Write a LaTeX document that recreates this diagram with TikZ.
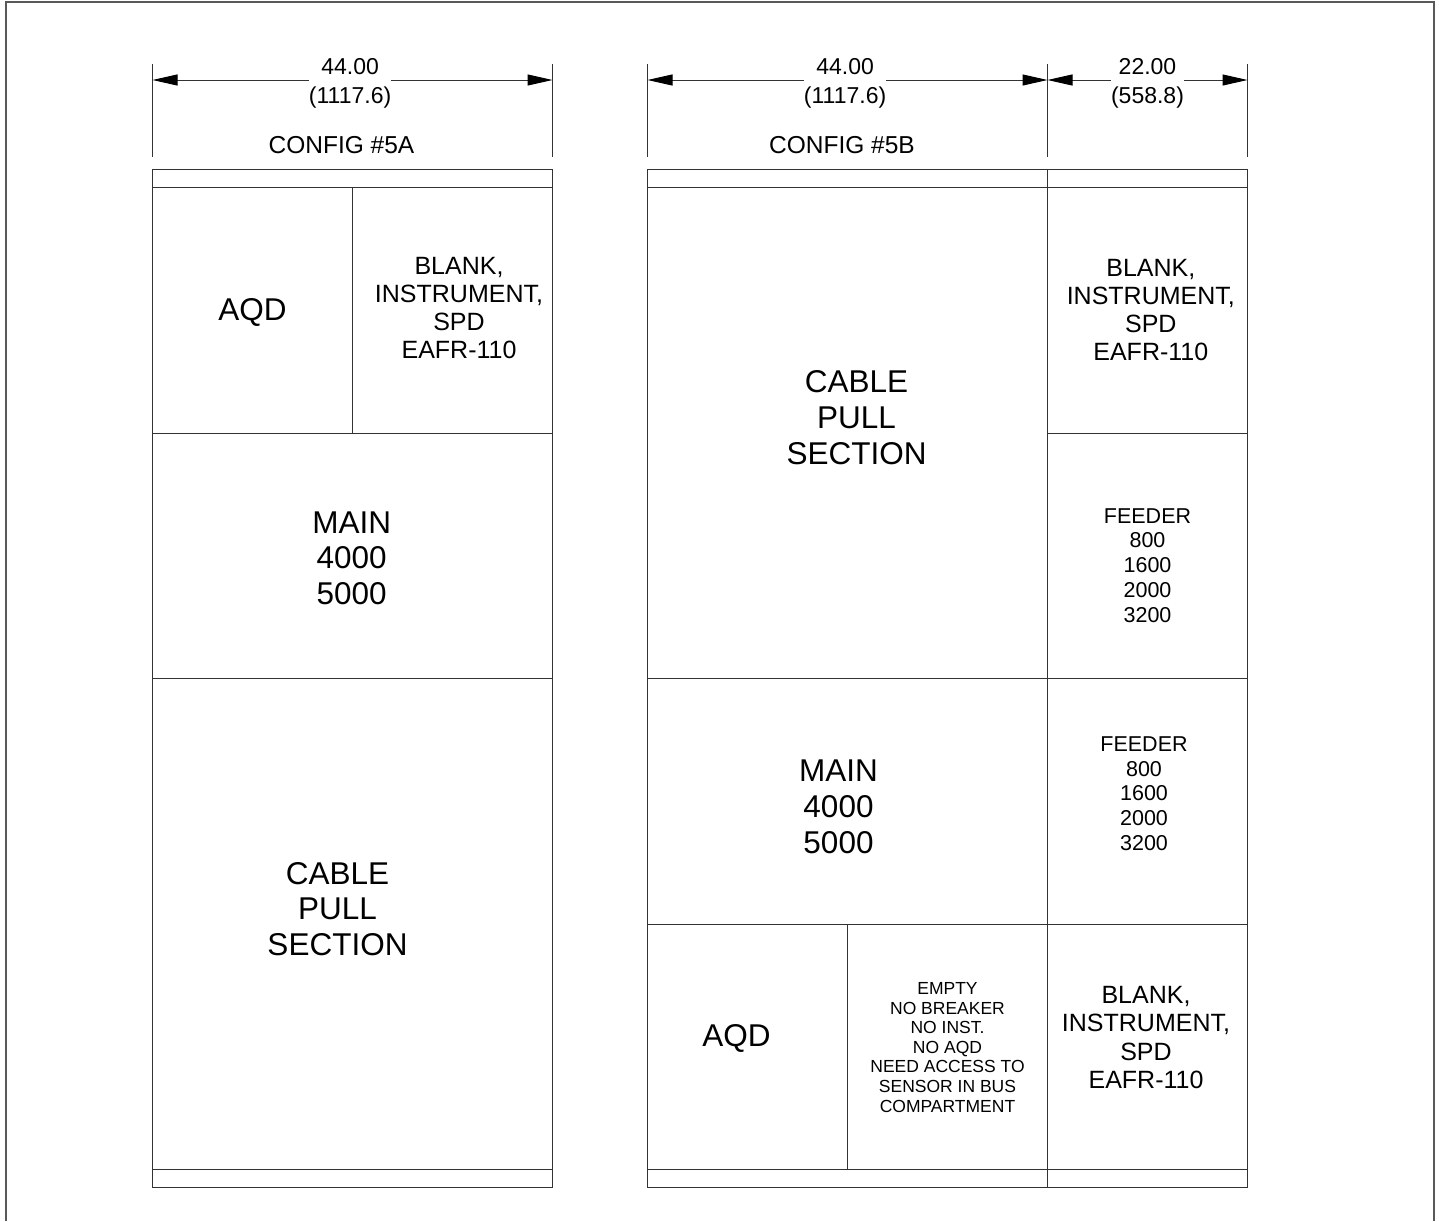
\documentclass[tikz,border=0pt]{standalone}
\usepackage{fontspec}
\setmainfont{Liberation Sans}
\usetikzlibrary{positioning}
\usetikzlibrary{arrows.meta}

\begin{document}
\begin{tikzpicture}[x=1pt, y=-1pt, line width=1pt, color=black!80, >={Triangle[length=25pt, width=11pt, black]},
	cell/.style={rectangle, draw, outer sep=0pt, inner sep=0pt},
	big/.style={align=center, text=black, inner sep=0pt, font=\fontsize{31.5}{35.7}\selectfont},
	mid/.style={align=center, text=black, inner sep=0pt, font=\fontsize{25}{28.3}\selectfont},
	feed/.style={align=center, text=black, inner sep=0pt, font=\fontsize{21.5}{24.9}\selectfont},
	tiny/.style={align=center, text=black, inner sep=0pt, font=\fontsize{17.5}{19.6}\selectfont},
	dim/.style={align=center, text=black, fill=white, yshift=-3pt, inner xsep=0pt, inner ysep=0pt, font=\fontsize{23}{29}\selectfont},
	config/.style={text=black, inner sep=0pt, font=\fontsize{24.5}{28}\selectfont}]
	\useasboundingbox (0,0) rectangle (1439,1221);

	% frame
	\coordinate (frameA) at (6,1221); %
	\coordinate (frameB) at (6,2); %
	\coordinate (frameC) at (1434,2); %
	\coordinate (frameD) at (1434,1221); %
	\draw[line width=2pt, black!65] (frameA) -- (frameB) -- (frameC) -- (frameD);

	% config 5A cells
	\node[cell, minimum width=400pt, minimum height=18pt, anchor=north west] (topA) at (152.5,169) {}; %
	\node[cell, minimum width=200pt, minimum height=246pt, anchor=north west] (aqdA) at (topA.south west) {}; %
	\node[cell, minimum width=200pt, minimum height=246pt, right=0pt of aqdA] (blankA) {}; %
	\node[cell, minimum width=400pt, minimum height=245pt, anchor=north west] (mainA) at (aqdA.south west) {}; %
	\node[cell, minimum width=400pt, minimum height=491pt, below=0pt of mainA] (cableA) {}; %
	\node[cell, minimum width=400pt, minimum height=18pt, below=0pt of cableA] (botA) {}; %

	% config 5B cells
	\node[cell, minimum width=400pt, minimum height=18pt, anchor=north west] (topB) at (647.5,169) {}; %
	\node[cell, minimum width=200pt, minimum height=18pt, right=0pt of topB] (topC) {}; %
	\node[cell, minimum width=400pt, minimum height=491pt, below=0pt of topB] (cableB) {}; %
	\node[cell, minimum width=400pt, minimum height=246pt, below=0pt of cableB] (mainB) {}; %
	\node[cell, minimum width=200pt, minimum height=245pt, anchor=north west] (aqdB) at (mainB.south west) {}; %
	\node[cell, minimum width=200pt, minimum height=245pt, right=0pt of aqdB] (emptyB) {}; %
	\node[cell, minimum width=400pt, minimum height=18pt, anchor=north west] (botB) at (aqdB.south west) {}; %
	\node[cell, minimum width=200pt, minimum height=246pt, below=0pt of topC] (blankC) {}; %
	\node[cell, minimum width=200pt, minimum height=245pt, below=0pt of blankC] (feedC) {}; %
	\node[cell, minimum width=200pt, minimum height=246pt, below=0pt of feedC] (feedD) {}; %
	\node[cell, minimum width=200pt, minimum height=245pt, below=0pt of feedD] (blankD) {}; %
	\node[cell, minimum width=200pt, minimum height=18pt, below=0pt of blankD] (botC) {}; %

	% cell labels
	\node[big, yshift=-2pt] (aqdAtext) at (aqdA) {AQD}; %
	\node[mid, xshift=6.5pt, yshift=2pt] (blankAtext) at (blankA) {BLANK,\\INSTRUMENT,\\SPD\\EAFR-110}; %
	\node[big, xshift=-.8pt, yshift=-2.8pt] (mainAtext) at (mainA) {MAIN\\4000\\5000}; %
	\node[big, xshift=-15pt, yshift=14.5pt] (cableAtext) at (cableA) {CABLE\\PULL\\SECTION}; %
	\node[big, xshift=9pt, yshift=15pt] (cableBtext) at (cableB) {CABLE\\PULL\\SECTION}; %
	\node[big, xshift=-9pt, yshift=-6pt] (mainBtext) at (mainB) {MAIN\\4000\\5000}; %
	\node[big, xshift=-11pt, yshift=8pt] (aqdBtext) at (aqdB) {AQD}; %
	\node[tiny, yshift=-.8pt] (emptyBtext) at (emptyB) {EMPTY\\NO BREAKER\\NO INST.\\NO AQD\\NEED ACCESS TO\\SENSOR IN BUS\\COMPARTMENT}; %
	\node[mid, xshift=3.3pt] (blankCtext) at (blankC) {BLANK,\\INSTRUMENT,\\SPD\\EAFR-110}; %
	\node[feed, yshift=-10pt] (feedCtext) at (feedC) {FEEDER\\800\\1600\\2000\\3200}; %
	\node[feed, xshift=-3.5pt, yshift=7.4pt] (feedDtext) at (feedD) {FEEDER\\800\\1600\\2000\\3200}; %
	\node[mid, xshift=-1.5pt, yshift=9pt] (blankDtext) at (blankD) {BLANK,\\INSTRUMENT,\\SPD\\EAFR-110}; %
	\node[config] (configA) at (341.5,145) {CONFIG \#5A}; %
	\node[config] (configB) at (842,145) {CONFIG \#5B}; %

	% extension lines
	\foreach \pos/\name in {152.5/a, 552.5/b, 647.5/c, 1047.5/d, 1247.5/e} {
		\coordinate (ext\name) at (\pos,64); %
		\coordinate (arr\name) at (\pos,80); %
		\coordinate (end\name) at (\pos,157); %
		\draw (ext\name) -- (end\name);
	}

	% edges
	\draw [<->] (arra) -- (arrb) node [dim, pos=.494] (dimA) {44.00\\(1117.6)};
	\draw [<->] (arrc) -- (arrd) node [dim, pos=.494] (dimB) {44.00\\(1117.6)};
	\draw [<->] (arrd) -- (arre) node [dim, midway] (dimC) {22.00\\(558.8)};
\end{tikzpicture}
\end{document}
